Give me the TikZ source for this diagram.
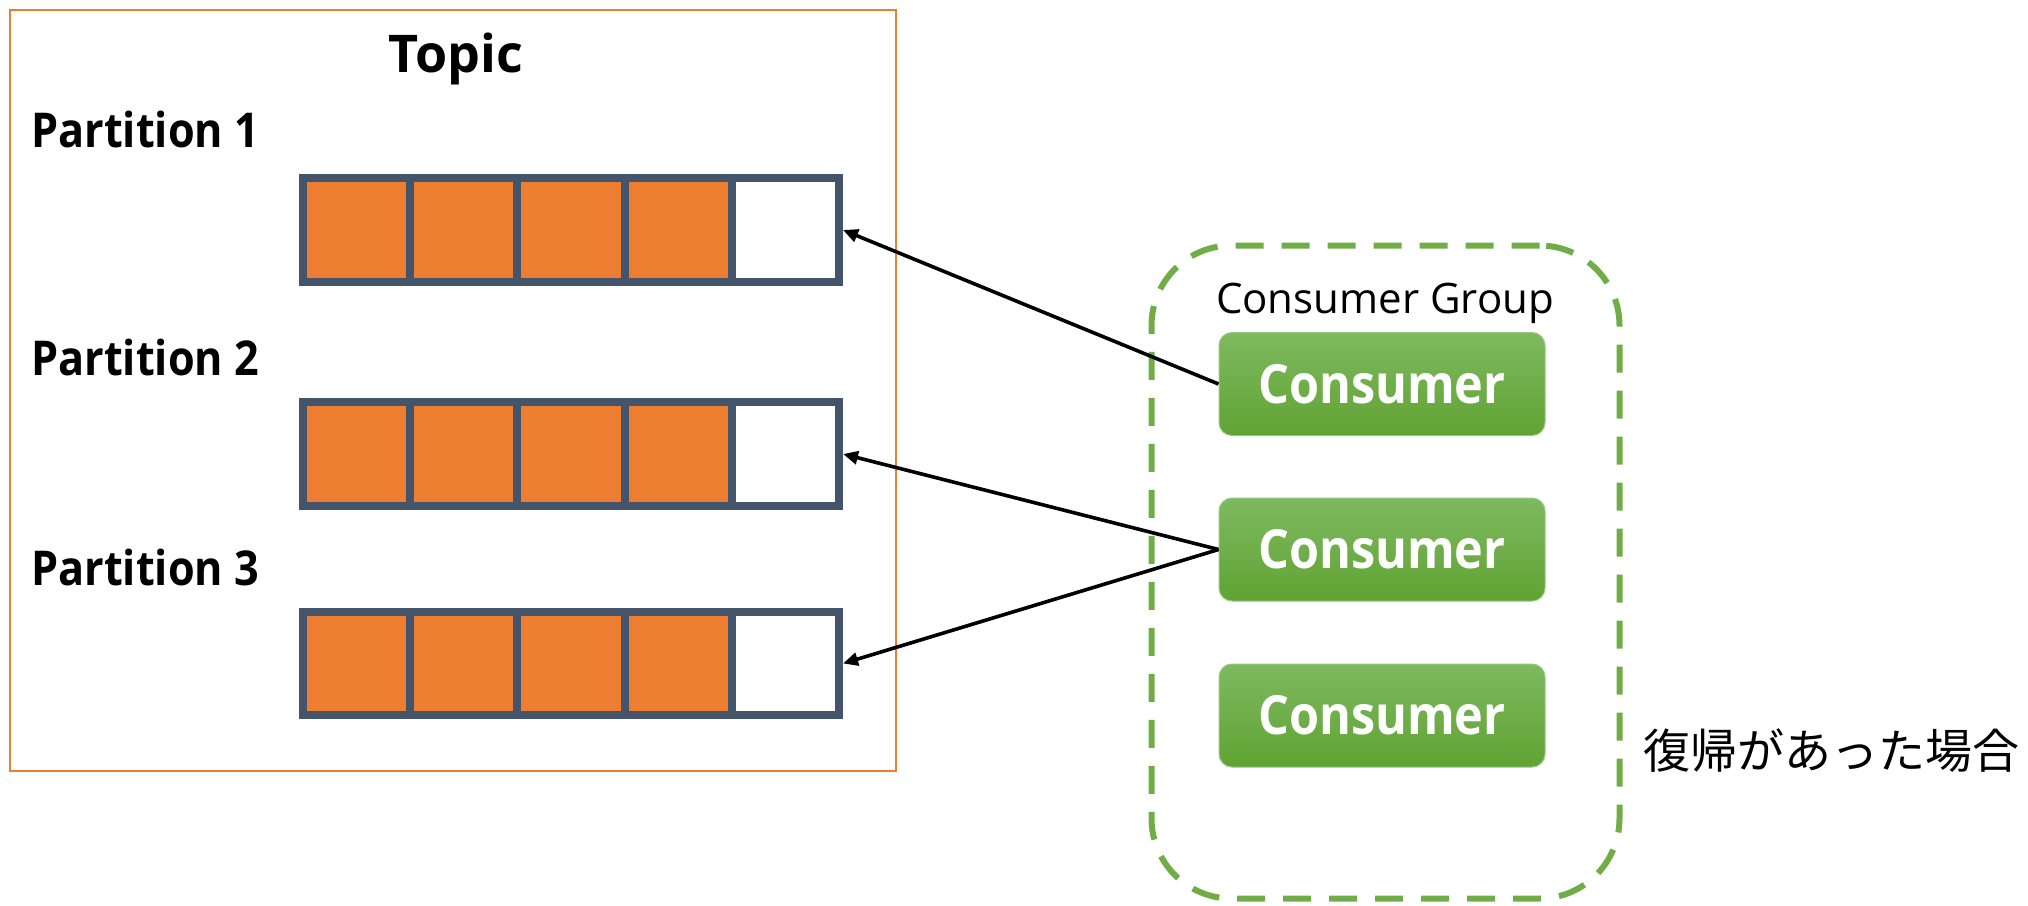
\documentclass[tikz,border=0pt]{standalone}
\usepackage{fontspec}
\setmainfont{Open Sans}
\newfontfamily\jpfont{Noto Sans CJK JP}
\newfontfamily\narrowfont{Open Sans}[FakeStretch=0.9]
\usetikzlibrary{arrows.meta,shapes.misc}
\definecolor{torange}{HTML}{ED7D31}
\definecolor{slate}{HTML}{44546A}
\definecolor{ggreen}{HTML}{70AD47}
\definecolor{gtop}{HTML}{7FB960}
\definecolor{gbot}{HTML}{60A333}
\begin{document}
\begin{tikzpicture}[x=0.5pt,y=-0.5pt,
  topicbox/.style={draw=torange,line width=1pt,minimum width=443pt,minimum height=380.5pt,inner sep=0pt},
  cell/.style={draw=slate,line width=4pt,minimum width=53.6pt,minimum height=51.75pt,inner sep=0pt},
  full/.style={cell,fill=torange},
  empty/.style={cell,fill=white},
  groupbox/.style={draw=ggreen,line width=3pt,rounded corners=40pt,dash pattern=on 14pt off 9pt,minimum width=234pt,minimum height=326.5pt,inner sep=0pt},
  consumer/.style={rounded corners=6.5pt,draw=gtop!80!white,line width=0.5pt,top color=gtop,bottom color=gbot,minimum width=163pt,minimum height=51.5pt,inner sep=0pt,text=white,font=\narrowfont\bfseries\fontsize{27}{30}\selectfont},
  plabel/.style={anchor=base west,inner sep=0pt,font=\narrowfont\bfseries\fontsize{24}{26}\selectfont},
  conn/.style={line width=1.8pt,-{Triangle[length=7.5pt,width=6.5pt]}}
]
\useasboundingbox (0,0) rectangle (2028,905);
\node[topicbox] (topic) at (453,390.5) {};
\node[anchor=base,inner sep=0pt,font=\bfseries\fontsize{26}{30}\selectfont] (topictitle) at (456,72) {Topic};
\node[plabel] (pl1) at (31,147) {Partition 1};
\node[plabel] (pl2) at (31,375) {Partition 2};
\node[plabel] (pl3) at (31,585) {Partition 3};
% partitions
\foreach \r/\y in {1/230,2/454,3/663.5}{
  \node[full] (p\r a) at (356.6,\y) {};
  \node[full] (p\r b) at (463.8,\y) {};
  \node[full] (p\r c) at (571,\y) {};
  \node[full] (p\r d) at (678.2,\y) {};
  \node[empty] (p\r e) at (785.4,\y) {};
}
% consumer group
\node[groupbox] (group) at (1385.5,572) {};
\node[anchor=base,inner sep=0pt,font=\fontsize{21}{24}\selectfont] (gtitle) at (1385,313) {Consumer Group};
\node[consumer] (c1) at (1382,384) {Consumer};
\node[consumer] (c2) at (1382,549.5) {Consumer};
\node[consumer] (c3) at (1382,715.5) {Consumer};
\node[anchor=west,inner sep=0pt,font=\jpfont\fontsize{23.5}{26}\selectfont] (note) at (1643,751) {復帰があった場合};
% connectors
\draw[conn] (c1.west) -- (p1e.east);
\draw[conn] (c2.west) -- (p2e.east);
\draw[conn] (c2.west) -- (p3e.east);
\end{tikzpicture}
\end{document}
